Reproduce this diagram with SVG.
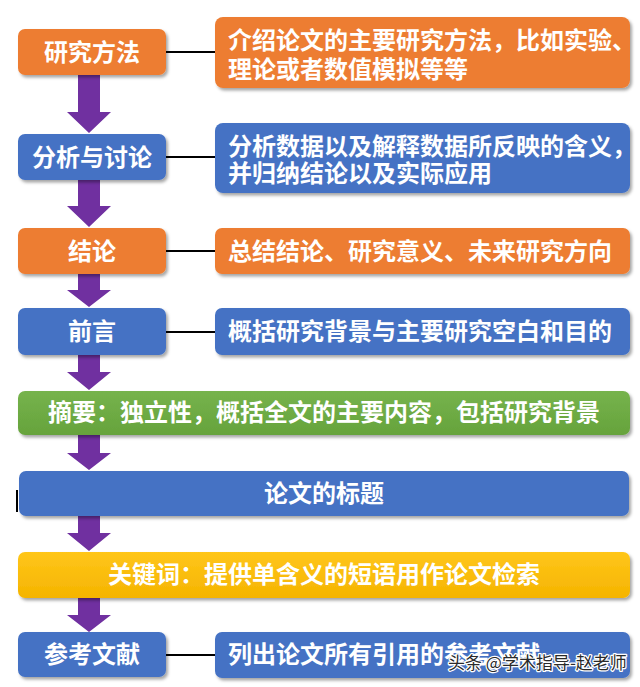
<svg xmlns="http://www.w3.org/2000/svg" width="640" height="687" viewBox="0 0 640 687">
<defs>
<filter id="sh" x="-5%" y="-20%" width="110%" height="150%">
<feDropShadow dx="2" dy="2.5" stdDeviation="1.6" flood-color="#000" flood-opacity="0.35"/>
</filter>
<linearGradient id="gy" x1="0" y1="0" x2="0" y2="1">
<stop offset="0" stop-color="#FFC61A"/>
<stop offset="1" stop-color="#F5B400"/>
</linearGradient>
<linearGradient id="gg" x1="0" y1="0" x2="0" y2="1">
<stop offset="0" stop-color="#76B34C"/>
<stop offset="1" stop-color="#66A33C"/>
</linearGradient>
</defs>
<style>
.b{filter:url(#sh)}
.or{fill:#ED7D31}
.bl{fill:#4472C4}
.t{font-family:"Noto Sans CJK SC","Noto Sans",sans-serif;font-weight:bold;font-size:24px;fill:#fff}
.c{text-anchor:middle}
.ln{stroke:#000;stroke-width:2}
.ar{fill:#7030A0}
.wm{font-family:"Noto Sans CJK SC","Noto Sans",sans-serif;font-size:17px;fill:#2a2a2a;stroke:#fff;stroke-width:2.5;paint-order:stroke;stroke-linejoin:round}
</style>
<rect width="640" height="687" fill="#fff"/>

<g id="connectors">
<line class="ln" x1="166" y1="52" x2="215" y2="52"/>
<line class="ln" x1="166" y1="157" x2="215" y2="157"/>
<line class="ln" x1="166" y1="251" x2="215" y2="251"/>
<line class="ln" x1="166" y1="332" x2="215" y2="332"/>
<line class="ln" x1="166" y1="655" x2="215" y2="655"/>
<path class="ar" d="M78,75 H100 V112 H111 L89,133 L67,112 H78 Z"/>
<path class="ar" d="M78,180 H100 V206 H111 L89,227 L67,206 H78 Z"/>
<path class="ar" d="M78,274 H100 V290 H111 L89,307 L67,290 H78 Z"/>
<path class="ar" d="M78,355 H100 V372 H111 L89,390 L67,372 H78 Z"/>
<path class="ar" d="M78,435 H100 V453 H111 L89,470 L67,453 H78 Z"/>
<path class="ar" d="M78,516 H100 V533 H111 L89,551 L67,533 H78 Z"/>
<path class="ar" d="M78,598 H100 V615 H111 L89,632 L67,615 H78 Z"/>
</g>

<g id="n-method">
<rect class="b or" x="18" y="29" width="148" height="46" rx="7"/>
<text class="t c" x="92" y="61">研究方法</text>
</g>
<g id="n-method-desc">
<rect class="b or" x="215" y="17" width="415" height="71" rx="8"/>
<text class="t"><tspan x="228" y="49">介绍论文的主要研究方法，比如实验、</tspan><tspan x="228" y="78">理论或者数值模拟等等</tspan></text>
</g>

<g id="n-analysis">
<rect class="b bl" x="18" y="134" width="148" height="46" rx="7"/>
<text class="t c" x="92" y="166">分析与讨论</text>
</g>
<g id="n-analysis-desc">
<rect class="b bl" x="215" y="123" width="415" height="70" rx="8"/>
<text class="t"><tspan x="228" y="155">分析数据以及解释数据所反映的含义，</tspan><tspan x="228" y="182">并归纳结论以及实际应用</tspan></text>
</g>

<g id="n-conclusion">
<rect class="b or" x="18" y="228" width="148" height="46" rx="7"/>
<text class="t c" x="92" y="260">结论</text>
</g>
<g id="n-conclusion-desc">
<rect class="b or" x="215" y="228" width="415" height="46" rx="7"/>
<text class="t" x="228" y="260">总结结论、研究意义、未来研究方向</text>
</g>

<g id="n-intro">
<rect class="b bl" x="18" y="308" width="148" height="47" rx="7"/>
<text class="t c" x="92" y="340">前言</text>
</g>
<g id="n-intro-desc">
<rect class="b bl" x="215" y="308" width="415" height="47" rx="7"/>
<text class="t" x="228" y="340">概括研究背景与主要研究空白和目的</text>
</g>

<g id="n-abstract">
<rect class="b" fill="url(#gg)" x="18" y="391" width="612" height="44" rx="7"/>
<text class="t c" x="324" y="421">摘要：独立性，概括全文的主要内容，包括研究背景</text>
</g>

<g id="n-title">
<rect class="b bl" x="19" y="471" width="610" height="45" rx="7"/>
<text class="t c" x="324" y="502">论文的标题</text>
</g>
<line x1="17" y1="490" x2="17" y2="512" stroke="#000" stroke-width="2"/>

<g id="n-keywords">
<rect class="b" fill="url(#gy)" x="18" y="552" width="612" height="46" rx="7"/>
<text class="t c" x="324" y="583">关键词：提供单含义的短语用作论文检索</text>
</g>

<g id="n-refs">
<rect class="b bl" x="18" y="632" width="148" height="45" rx="7"/>
<text class="t c" x="92" y="663">参考文献</text>
</g>
<g id="n-refs-desc">
<rect class="b bl" x="215" y="632" width="415" height="46" rx="7"/>
<text class="t" x="228" y="663">列出论文所有引用的参考文献</text>
</g>

<text class="wm" x="448" y="669">头条 @学术指导-赵老师</text>
</svg>
